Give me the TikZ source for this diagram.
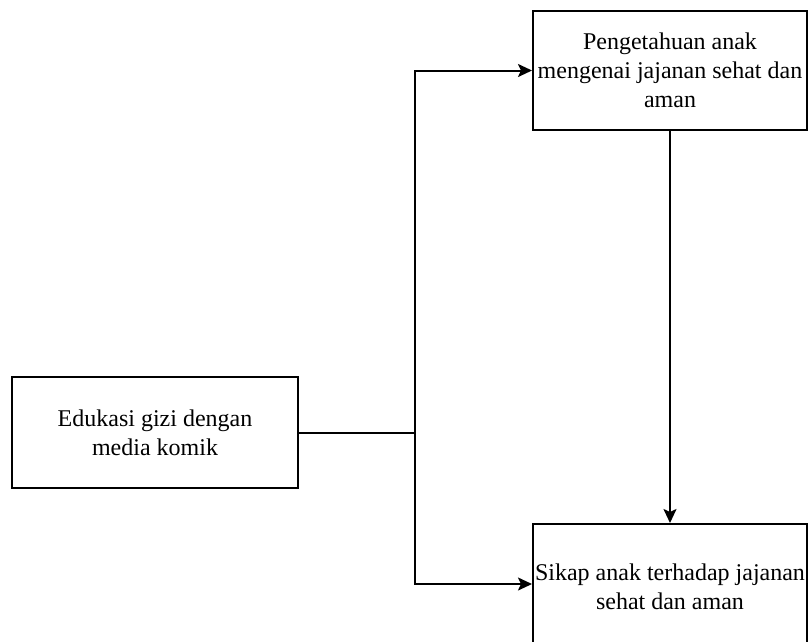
\documentclass[tikz,border=0pt]{standalone}
\usepackage{fontspec}
\setmainfont{Liberation Serif}
\newfontfamily\boxfont{LiberationSerif-Regular.ttf}
\usetikzlibrary{arrows.meta}
\begin{document}
\begin{tikzpicture}[x=1pt,y=-1pt,
  box/.style={draw, line width=2pt, inner sep=0pt, align=center, font=\boxfont\fontsize{24}{29}\selectfont},
  arr/.style={line width=2pt, -{Stealth[length=14pt,width=13pt,inset=3pt]}},
  conn/.style={line width=2pt}]
\useasboundingbox (0,0) rectangle (808,641);
\clip (0,0) rectangle (808,641);
\node[box, minimum width=286pt, minimum height=111pt] (edu) at (155,432.5) {Edukasi gizi dengan\\media komik};
\node[box, minimum width=274pt, minimum height=119pt] (peng) at (670,70.5) {Pengetahuan anak\\mengenai jajanan sehat dan\\aman};
\node[box, minimum width=274pt, minimum height=126pt] (sikap) at (670,587) {Sikap anak terhadap jajanan\\sehat dan aman};
\coordinate (j) at (415,432.5);
\draw[conn] (edu.east) -- (j);
\draw[arr] (j) |- (peng.west);
\draw[arr] (j) |- ([yshift=3pt]sikap.west);
\draw[arr] (peng.south) -- (sikap.north);
\end{tikzpicture}
\end{document}
